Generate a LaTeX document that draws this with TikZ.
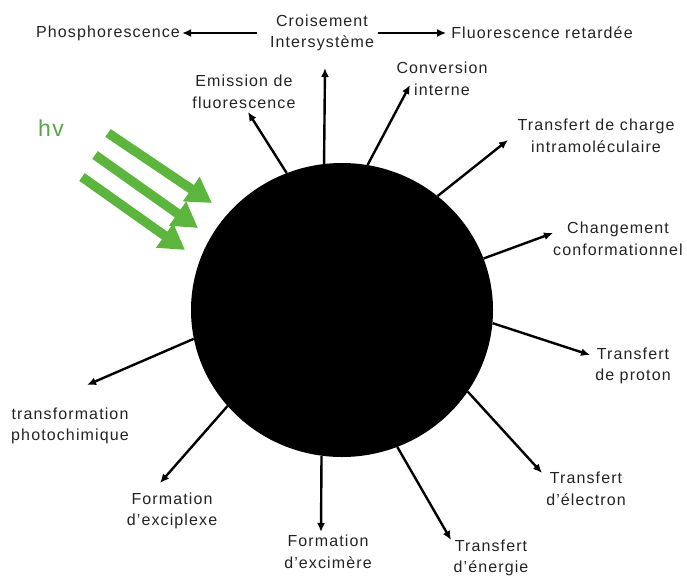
\documentclass[tikz,border=0pt]{standalone}
\usepackage{fontspec}
\setmainfont{Liberation Sans}[LetterSpace=7]
\usetikzlibrary{arrows.meta,shapes.geometric}
\definecolor{txt}{RGB}{35,35,35}
\definecolor{hvgreen}{RGB}{92,182,62}
\definecolor{hvtext}{RGB}{90,165,70}
\begin{document}
\begin{tikzpicture}[x=1pt,y=-1pt,
  lbl/.style={align=center,font=\fontsize{16}{21.5}\selectfont,text=txt,inner sep=2pt},
  arr/.style={line width=2.4pt,-{Latex[length=9pt,width=8pt]}},
  beam/.style={line width=9.5pt,draw=hvgreen,-{Triangle[length=25pt,width=28pt]}}]
\useasboundingbox (0,0) rectangle (687,576);

% central molecule
\node[ellipse,fill=black,minimum width=302pt,minimum height=294pt,inner sep=0pt] (c) at (342,310) {};

% labels
\node[lbl] (phos) at (108,33) {Phosphorescence};
\node[lbl] (ci) at (322,33) {Croisement\\Intersystème};
\node[lbl] (fr) at (542,33) {Fluorescence retardée};
\node[lbl] (em) at (244,92) {Emission de\\fluorescence};
\node[lbl] (conv) at (442,79) {Conversion\\interne};
\node[lbl] (tci) at (596,136) {Transfert de charge\\intramoléculaire};
\node[lbl] (chg) at (618,239) {Changement\\conformationnel};
\node[lbl] (prot) at (633,366) {Transfert\\de proton};
\node[lbl] (elec) at (586,489) {Transfert\\d'électron};
\node[lbl] (ener) at (491,558) {Transfert\\d'énergie};
\node[lbl] (excim) at (328,552) {Formation\\d'excimère};
\node[lbl] (excip) at (172,511) {Formation\\d'exciplexe};
\node[lbl] (photo) at (70,426) {transformation\\photochimique};
\node[font=\fontsize{23}{25}\selectfont,text=hvtext,inner sep=0pt] (hv) at (51,128) {hv};

% arrow tips
\coordinate (tEm) at (248,112);
\coordinate (tCI) at (325,68);
\coordinate (tConv) at (410,85);
\coordinate (tTci) at (508,140);
\coordinate (tChg) at (553,233);
\coordinate (tProt) at (590,355);
\coordinate (tElec) at (542,473);
\coordinate (tEner) at (451,540);
\coordinate (tExcim) at (321,532);
\coordinate (tExcip) at (160,483);
\coordinate (tPhoto) at (87,385);

% connectors from the molecule
\draw[arr] (c.112) -- (tEm);
\draw[arr] (c.97) -- (tCI);
\draw[arr] (c.80) -- (tConv);
\draw[arr] (c.50) -- (tTci);
\draw[arr] (c.20) -- (tChg);
\draw[arr] (c.355) -- (tProt);
\draw[arr] (c.327) -- (tElec);
\draw[arr] (c.292) -- (tEner);
\draw[arr] (c.262) -- (tExcim);
\draw[arr] (c.220) -- (tExcip);
\draw[arr] (c.191) -- (tPhoto);

% from intersystem crossing
\draw[arr,shorten <=11pt] (ci) -- (phos);
\draw[arr,shorten <=2pt,shorten >=3pt] (ci) -- (fr);

% light beams
\coordinate (b1s) at (108,133);
\coordinate (b1e) at (212,203);
\coordinate (b2s) at (95,155);
\coordinate (b2e) at (198,228);
\coordinate (b3s) at (82,177);
\coordinate (b3e) at (185,250);
\draw[beam] (b1s) -- (b1e);
\draw[beam] (b2s) -- (b2e);
\draw[beam] (b3s) -- (b3e);
\end{tikzpicture}
\end{document}
